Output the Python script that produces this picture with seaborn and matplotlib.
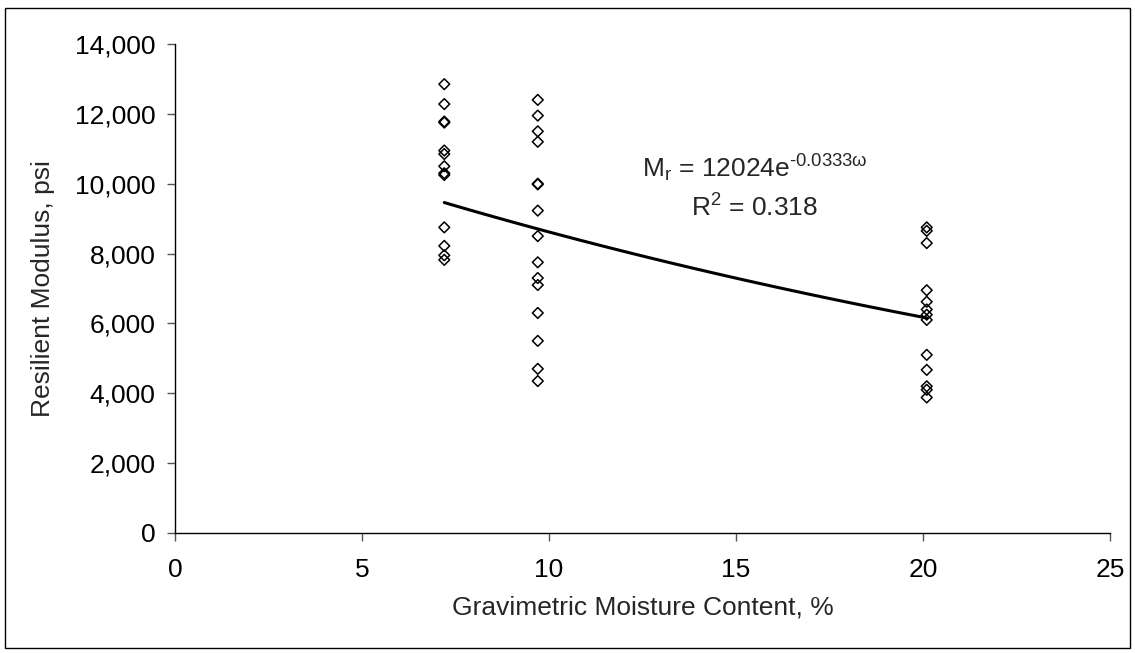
import numpy as np
import pandas as pd
import matplotlib
matplotlib.use('Agg')
import matplotlib.pyplot as plt
import matplotlib.ticker as mticker
from matplotlib.patches import Rectangle
import seaborn as sns

# moisture content groups (%) and resilient modulus readings (psi)
moist_a = 7.2
mr_a = [12850, 12280, 11780, 11750, 10950, 10850, 10500, 10300, 10250,
        8750, 8220, 7950, 7820]
moist_b = 9.7
mr_b = [12400, 11950, 11500, 11200, 10000, 9980, 9230, 8500, 7750, 7300,
        7100, 6300, 5500, 4700, 4350]
moist_c = 20.1
mr_c = [8750, 8650, 8300, 6950, 6620, 6400, 6250, 6100, 5100, 4670, 4200,
        4100, 3880]

# trendline as printed on the chart: Mr = 12024 e^(-0.0333 w)
trend_a = 12024
trend_b = -0.0333

x_ticks = [0, 5, 10, 15, 20, 25]
y_ticks = [0, 2000, 4000, 6000, 8000, 10000, 12000, 14000]

df = pd.DataFrame({
    'w': [moist_a] * len(mr_a) + [moist_b] * len(mr_b) + [moist_c] * len(mr_c),
    'mr': mr_a + mr_b + mr_c,
})

sns.set_style('ticks')
plt.rcParams['font.family'] = ['Liberation Sans', 'DejaVu Sans']
plt.rcParams['mathtext.default'] = 'regular'

fig = plt.figure(figsize=(11.35, 6.53), dpi=100)
ax = fig.add_axes([175 / 1135, 1 - 533 / 653, (1110 - 175) / 1135, (533 - 44) / 653])

sns.scatterplot(data=df, x='w', y='mr', marker='D', s=30, facecolor='none',
                edgecolor='black', linewidth=1.1, ax=ax, zorder=3)

w_fit = np.linspace(df['w'].min(), df['w'].max(), 100)
sns.lineplot(x=w_fit, y=trend_a * np.exp(trend_b * w_fit), color='black',
             linewidth=2.2, ax=ax, zorder=2)

ax.text(15.5, 10450, 'M$_{r}$ = 12024e$^{\u20100.0333ω}$', ha='center', va='center', fontsize=19)
ax.text(15.5, 9300, r'R$^{2}$ = 0.318', ha='center', va='center', fontsize=19)

ax.set_xlim(0, 25)
ax.set_ylim(0, 14000)
ax.set_xticks(x_ticks)
ax.set_yticks(y_ticks)
ax.yaxis.set_major_formatter(mticker.StrMethodFormatter('{x:,.0f}'))
ax.tick_params(axis='both', direction='out', length=6, width=1, color='#555555',
               labelsize=19, labelcolor='black')
ax.tick_params(axis='x', pad=12)
ax.tick_params(axis='y', pad=8)
ax.set_xlabel('Gravimetric Moisture Content, %', fontsize=19, labelpad=10)
ax.set_ylabel('Resilient Modulus, psi', fontsize=19, labelpad=14)
sns.despine(ax=ax)
for sp in ['left', 'bottom']:
    ax.spines[sp].set_linewidth(1)
    ax.spines[sp].set_color('black')

fig.patches.append(Rectangle((5 / 1135, 5 / 653), 1125 / 1135, 640 / 653,
                             transform=fig.transFigure, fill=False,
                             edgecolor='black', linewidth=1))

fig.savefig('out.png', dpi=100)
